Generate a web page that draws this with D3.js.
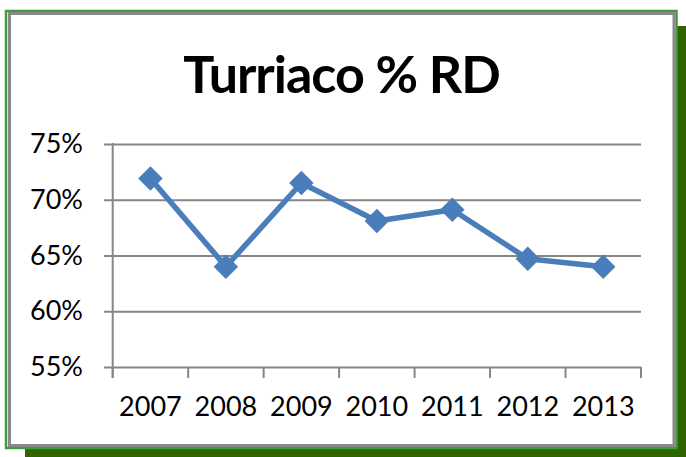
<!DOCTYPE html>
<html>
<head>
<meta charset="utf-8">
<script src="https://cdn.jsdelivr.net/npm/d3@7"></script>
<style>
  body { margin: 0; background: #fff; }
  svg { display: block; }
  .tick text { font-family: Lato, "Open Sans", sans-serif; fill: #000; }
</style>
</head>
<body>
<svg width="686" height="457"></svg>
<script>
// data
const years = ['2007', '2008', '2009', '2010', '2011', '2012', '2013'];
const rdShare = [0.719, 0.640, 0.715, 0.681, 0.691, 0.647, 0.640];
const yTicks = [0.55, 0.60, 0.65, 0.70, 0.75];
const chartTitle = 'Turriaco % RD';

const svg = d3.select('svg');

// frame with the dark green drop shadow
svg.append('rect')
  .attr('x', 25).attr('y', 26)
  .attr('width', 661).attr('height', 431)
  .attr('fill', '#2f6401');

svg.append('rect')
  .attr('x', 6).attr('y', 11)
  .attr('width', 670.5).attr('height', 437)
  .attr('fill', '#fff')
  .attr('stroke', '#3d9c3d')
  .attr('stroke-width', 2.5);

svg.append('rect')
  .attr('x', 9.5).attr('y', 13.5)
  .attr('width', 664.5).attr('height', 432)
  .attr('fill', 'none')
  .attr('stroke', '#898989')
  .attr('stroke-width', 3);

// plot area
const plotLeft = 112.7, plotRight = 641, plotTop = 144, plotBottom = 367;

const xScale = d3.scaleBand()
  .domain(years)
  .range([plotLeft, plotRight])
  .padding(0);

const yScale = d3.scaleLinear()
  .domain([0.55, 0.75])
  .range([plotBottom, plotTop]);

// horizontal grid + y labels
const yAxis = svg.append('g')
  .attr('transform', `translate(${plotRight}, 0)`)
  .call(d3.axisLeft(yScale)
    .tickValues(yTicks)
    .tickSize(plotRight - 104)
    .tickPadding(21)
    .tickFormat(d3.format('.0%')));

yAxis.select('.domain').remove();
yAxis.selectAll('.tick line')
  .attr('stroke', '#868686')
  .attr('stroke-width', 2);
yAxis.selectAll('.tick text')
  .attr('font-size', 27);

// vertical axis line
svg.append('line')
  .attr('x1', plotLeft).attr('x2', plotLeft)
  .attr('y1', yScale(0.75) - 1).attr('y2', plotBottom + 11)
  .attr('stroke', '#868686')
  .attr('stroke-width', 2);

// category boundary ticks
const bounds = years.map((d) => xScale(d)).concat([xScale.range()[1]]);
svg.append('g')
  .selectAll('line')
  .data(bounds)
  .enter()
  .append('line')
  .attr('x1', (d) => d).attr('x2', (d) => d)
  .attr('y1', plotBottom).attr('y2', plotBottom + 11)
  .attr('stroke', '#868686')
  .attr('stroke-width', 2);

// x labels
const xAxis = svg.append('g')
  .attr('transform', `translate(0, ${plotBottom})`)
  .call(d3.axisBottom(xScale).tickSize(0).tickPadding(30));
xAxis.select('.domain').remove();
xAxis.selectAll('.tick text')
  .attr('font-size', 27);

// series
const points = years.map((y, i) => ({ year: y, value: rdShare[i] }));
const cx = (d) => xScale(d.year) + xScale.bandwidth() / 2;

svg.append('path')
  .datum(points)
  .attr('fill', 'none')
  .attr('stroke', '#4a7ebb')
  .attr('stroke-width', 5.5)
  .attr('stroke-linejoin', 'round')
  .attr('d', d3.line().x(cx).y((d) => yScale(d.value)));

svg.append('g')
  .selectAll('path')
  .data(points)
  .enter()
  .append('path')
  .attr('d', d3.symbol(d3.symbolSquare, 300)())
  .attr('transform', (d) => `translate(${cx(d)}, ${yScale(d.value)}) rotate(45)`)
  .attr('fill', '#4a7ebb');

// title
svg.append('text')
  .attr('x', 341.5)
  .attr('y', 93)
  .attr('text-anchor', 'middle')
  .attr('font-family', 'Lato, "Open Sans", sans-serif')
  .attr('font-weight', 'bold')
  .attr('font-size', 52)
  .attr('letter-spacing', -1)
  .text(chartTitle);
</script>
</body>
</html>
